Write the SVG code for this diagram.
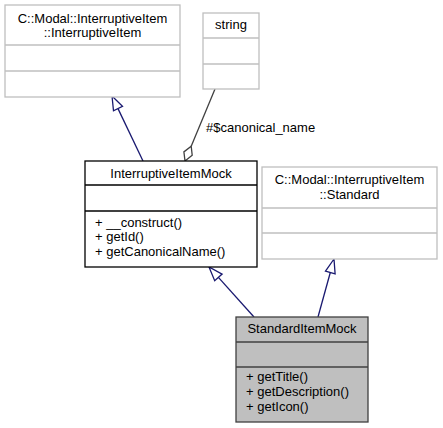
<svg xmlns="http://www.w3.org/2000/svg" width="443" height="428" viewBox="0 0 443 428">
<style>
text{font-family:"Liberation Sans",Arial,Helvetica,sans-serif;font-size:13px;fill:#000}
.c{text-anchor:middle}
.gray rect,.gray line{stroke:#bfbfbf;fill:#fff;stroke-width:1.3}
.blk rect,.blk line{stroke:#000;fill:#fff;stroke-width:1.3}
.cur rect{stroke:#404040;fill:#bfbfbf;stroke-width:1.3}
.cur line{stroke:#404040;stroke-width:1.3}
.inh{stroke:#191970;fill:none;stroke-width:1.3}
.inhh{stroke:#191970;fill:#fff;stroke-width:1.3}
.use{stroke:#404040;fill:none;stroke-width:1.3}
.useh{stroke:#404040;fill:#fff;stroke-width:1.3}
</style>
<rect width="443" height="428" fill="#fff"/>
<g id="connectors">
<path class="inh" d="M143,161 L118,108.6"/>
<polygon class="inhh" points="112,96 113.5,110.8 122.5,106.4"/>
<path class="use" d="M215,89 L191.2,146.2"/>
<polygon class="useh" points="185,161 183.9,151.9 191.2,146.2 192.2,155.3"/>
<text x="206" y="132">#$canonical_name</text>
<path class="inh" d="M254,317 L218.4,277.4"/>
<polygon class="inhh" points="209,267 214.7,280.7 222.1,274.1"/>
<path class="inh" d="M318,317 L330.3,272.5"/>
<polygon class="inhh" points="334,259 325.5,271.2 335.1,273.8"/>
</g>
<g id="node_InterruptiveItem" class="gray">
<rect x="5" y="5" width="175" height="92"/>
<line x1="5" y1="45" x2="180" y2="45"/>
<line x1="5" y1="71" x2="180" y2="71"/>
<text class="c" x="92.5" y="22.5">C::Modal::InterruptiveItem</text>
<text class="c" x="92.5" y="37">::InterruptiveItem</text>
</g>
<g id="node_string" class="gray">
<rect x="203" y="13" width="56" height="76"/>
<line x1="203" y1="38" x2="259" y2="38"/>
<line x1="203" y1="64" x2="259" y2="64"/>
<text class="c" x="231" y="29">string</text>
</g>
<g id="node_InterruptiveItemMock" class="blk">
<rect x="85" y="161" width="172" height="106"/>
<line x1="85" y1="185" x2="257" y2="185"/>
<line x1="85" y1="211" x2="257" y2="211"/>
<text class="c" x="171" y="178">InterruptiveItemMock</text>
<text x="95" y="226.5">+ __construct()</text>
<text x="95" y="241">+ getId()</text>
<text x="95" y="255.5">+ getCanonicalName()</text>
</g>
<g id="node_Standard" class="gray">
<rect x="262" y="167" width="175" height="92"/>
<line x1="262" y1="208" x2="437" y2="208"/>
<line x1="262" y1="233" x2="437" y2="233"/>
<text class="c" x="349.5" y="184">C::Modal::InterruptiveItem</text>
<text class="c" x="349.5" y="198.5">::Standard</text>
</g>
<g id="node_StandardItemMock" class="cur">
<rect x="236" y="317" width="132" height="105"/>
<line x1="236" y1="342" x2="368" y2="342"/>
<line x1="236" y1="367" x2="368" y2="367"/>
<text class="c" x="302" y="333">StandardItemMock</text>
<text x="246" y="381">+ getTitle()</text>
<text x="246" y="396">+ getDescription()</text>
<text x="246" y="410.5">+ getIcon()</text>
</g>
</svg>
